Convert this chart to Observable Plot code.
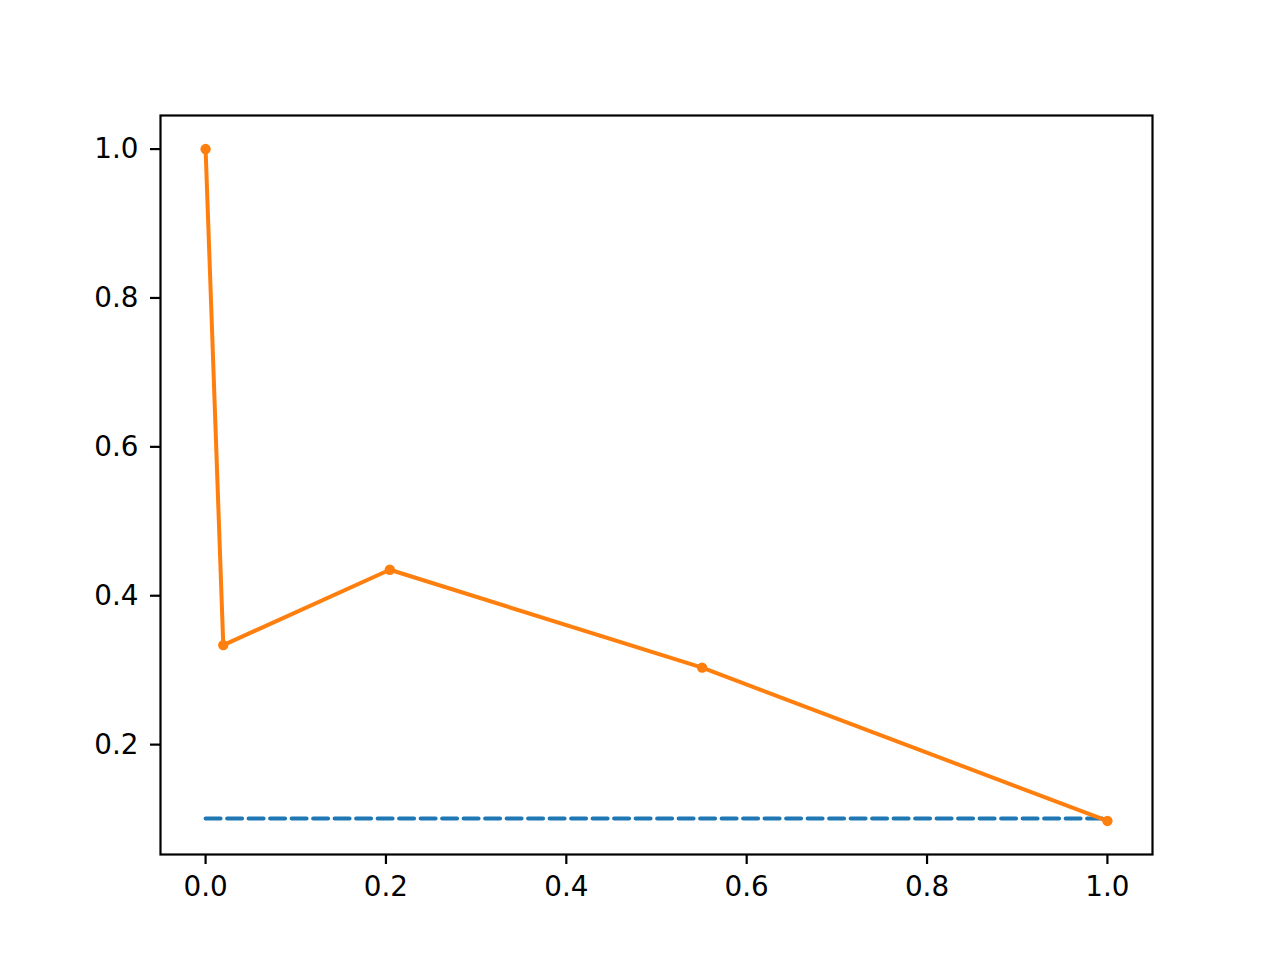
<!DOCTYPE html>
<html>
<head>
<meta charset="utf-8">
<script src="https://cdn.jsdelivr.net/npm/d3@7"></script>
<script src="https://cdn.jsdelivr.net/npm/@observablehq/plot@0.6"></script>
<style>
  html, body { margin: 0; padding: 0; background: #fff; }
  #chart { width: 1280px; height: 960px; }
</style>
</head>
<body>
<div id="chart"></div>
<script>
// Curve points (x, y)
const curveX = [0.0, 0.0196, 0.2043, 0.5506, 1.0];
const curveY = [1.0, 0.3337, 0.4349, 0.3034, 0.0975];
// Dashed reference line
const baseX = [0.0, 1.0];
const baseY = [0.1008, 0.1008];
// Tick labels
const xTicks = [0.0, 0.2, 0.4, 0.6, 0.8, 1.0];
const yTicks = [0.2, 0.4, 0.6, 0.8, 1.0];

const curve = curveX.map((x, i) => ({x, y: curveY[i]}));
const base = baseX.map((x, i) => ({x, y: baseY[i]}));

const font = "DejaVu Sans, sans-serif";
const chart = Plot.plot({
  width: 1280,
  height: 960,
  marginLeft: 160,
  marginRight: 128,
  marginTop: 115,
  marginBottom: 106,
  style: {fontFamily: font, fontSize: "27.8px", background: "white", color: "black"},
  x: {domain: [-0.05, 1.05]},
  y: {domain: [0.0524, 1.0451]},
  marks: [
    Plot.axisX({ticks: xTicks, tickFormat: d => d.toFixed(1), tickSize: 10, tickPadding: 12, strokeWidth: 2.2, fontSize: 27.8, label: null}),
    Plot.axisY({ticks: yTicks, tickFormat: d => d.toFixed(1), tickSize: 10, tickPadding: 12, strokeWidth: 2.2, fontSize: 27.8, label: null}),
    Plot.line(base, {x: "x", y: "y", stroke: "#1f77b4", strokeWidth: 4, strokeDasharray: "15,6.5"}),
    Plot.line(curve, {x: "x", y: "y", stroke: "#ff7f0e", strokeWidth: 4}),
    Plot.dot(curve, {x: "x", y: "y", fill: "#ff7f0e", r: 5.2}),
    Plot.frame({stroke: "black", strokeWidth: 2.2})
  ]
});
document.getElementById("chart").appendChild(chart);
</script>
</body>
</html>
